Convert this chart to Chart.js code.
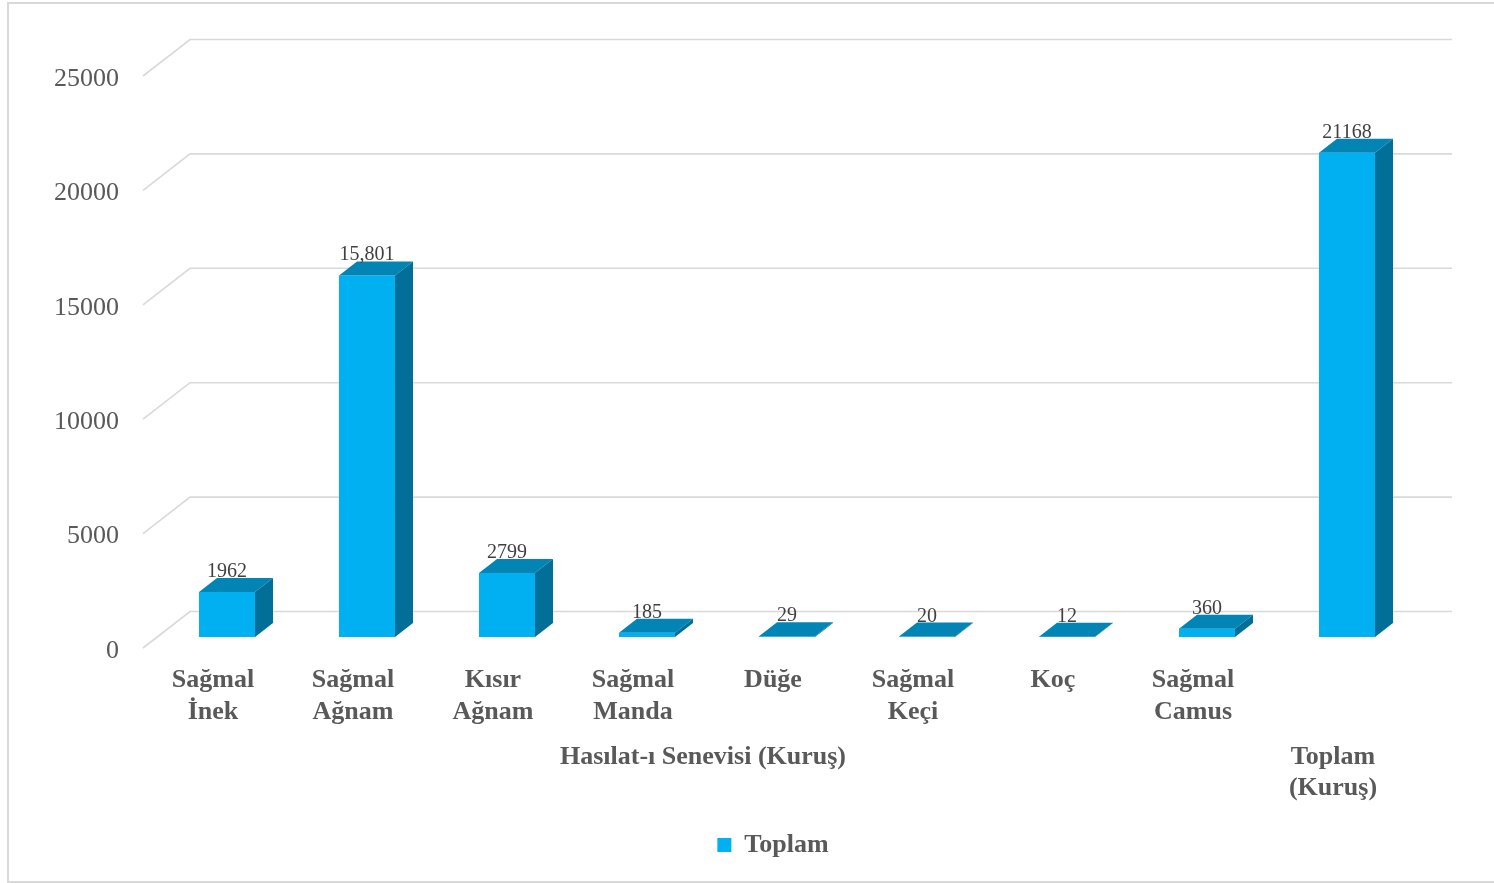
<!DOCTYPE html>
<html>
<head>
<meta charset="utf-8">
<script src="https://cdn.jsdelivr.net/npm/chart.js@4"></script>
<style>
    body { margin: 0; background: #fff; }
    #wrap { width: 1494px; height: 883px; position: relative; }
</style>
</head>
<body>
<div id="wrap"><canvas id="chart"></canvas></div>
<script>
const categories = [
    ['Sağmal', 'İnek'], ['Sağmal', 'Ağnam'], ['Kısır', 'Ağnam'], ['Sağmal', 'Manda'],
    'Düğe', ['Sağmal', 'Keçi'], 'Koç', ['Sağmal', 'Camus'], ''
];
const groupLabel = 'Hasılat-ı Senevisi (Kuruş)';
const totalLabel = ['Toplam', '(Kuruş)'];
const values = [1962, 15801, 2799, 185, 29, 20, 12, 360, 21168];
const valueLabels = ['1962', '15,801', '2799', '185', '29', '20', '12', '360', '21168'];
const yTicks = [0, 5000, 10000, 15000, 20000, 25000];

const FONT = "'Liberation Serif', 'Times New Roman', serif";
const GREY = '#595959';
const FRONT = '#00B0F0', TOP = '#0285B5', SIDE = '#016F97';
const DX = 18, DY = -14;        // bar depth
const SHIFT = 14;               // bar plane vs axis plane
const BACK_X = 47, BACK_Y = -36.5; // wall depth

const threeD = {
    id: 'threeD',
    beforeDraw(chart) {
        const ctx = chart.ctx;
        ctx.save();
        ctx.strokeStyle = '#D9D9D9';
        ctx.lineWidth = 2;
        ctx.strokeRect(8, 3, 1500, 879);
        ctx.restore();
    },
    beforeDatasetsDraw(chart) {
        const ctx = chart.ctx;
        const y = chart.scales.y, area = chart.chartArea;
        ctx.save();
        ctx.strokeStyle = '#D9D9D9';
        ctx.lineWidth = 1.6;
        yTicks.forEach(v => {
            const py = y.getPixelForValue(v);
            ctx.beginPath();
            ctx.moveTo(area.left, py);
            ctx.lineTo(area.left + BACK_X, py + BACK_Y);
            ctx.lineTo(area.right + BACK_X + 2, py + BACK_Y);
            ctx.stroke();
        });
        ctx.restore();
        ctx.save();
        ctx.translate(SHIFT, 0);
    },
    afterDatasetsDraw(chart) {
        const ctx = chart.ctx;
        const meta = chart.getDatasetMeta(0);
        meta.data.forEach((bar, i) => {
            const x0 = bar.x - bar.width / 2, x1 = bar.x + bar.width / 2;
            const top = bar.y, base = bar.base;
            ctx.fillStyle = TOP;
            ctx.beginPath();
            ctx.moveTo(x0, top); ctx.lineTo(x1, top);
            ctx.lineTo(x1 + DX, top + DY); ctx.lineTo(x0 + DX, top + DY);
            ctx.closePath(); ctx.fill();
            ctx.fillStyle = SIDE;
            ctx.beginPath();
            ctx.moveTo(x1, top); ctx.lineTo(x1 + DX, top + DY);
            ctx.lineTo(x1 + DX, base + DY); ctx.lineTo(x1, base);
            ctx.closePath(); ctx.fill();
            ctx.fillStyle = '#404040';
            ctx.font = `20px ${FONT}`;
            ctx.textAlign = 'center';
            ctx.textBaseline = 'alphabetic';
            ctx.fillText(valueLabels[i], bar.x, top + DY - 1);
        });
        ctx.restore();
    },
    afterDraw(chart) {
        const ctx = chart.ctx;
        const x = chart.scales.x;
        ctx.save();
        ctx.fillStyle = GREY;
        ctx.font = `bold 26px ${FONT}`;
        ctx.textAlign = 'center';
        ctx.textBaseline = 'middle';
        const gx = (x.getPixelForValue(0) + x.getPixelForValue(7)) / 2;
        ctx.fillText(groupLabel, gx, 757);
        const tx = x.getPixelForValue(8);
        totalLabel.forEach((t, k) => ctx.fillText(t, tx, 757 + k * 31));
        ctx.restore();
    }
};

new Chart(document.getElementById('chart'), {
    type: 'bar',
    data: {
        labels: categories,
        datasets: [{
            label: 'Toplam',
            data: values,
            yAxisID: 'y2',
            backgroundColor: FRONT,
            borderWidth: 0,
            barPercentage: 0.4,
            categoryPercentage: 1
        }]
    },
    options: {
        responsive: true,
        maintainAspectRatio: false,
        animation: false,
        layout: { padding: { left: 0, right: 91, top: 76, bottom: 15 } },
        plugins: {
            tooltip: { enabled: false },
            legend: {
                position: 'bottom',
                fullSize: false,
                labels: {
                    boxWidth: 14, boxHeight: 14, padding: 10,
                    color: GREY,
                    font: { family: FONT, size: 26, weight: 'bold' }
                }
            }
        },
        scales: {
            x: {
                grid: { display: false, drawTicks: false },
                border: { display: false },
                ticks: {
                    color: GREY, padding: 17, maxRotation: 0, autoSkip: false,
                    font: { family: FONT, size: 26, weight: 'bold', lineHeight: 1.2 }
                },
                afterFit(s) { s.height = 174; }
            },
            y: {
                min: 0, max: 25000,
                grid: { display: false, drawTicks: false },
                border: { display: false },
                ticks: {
                    stepSize: 5000, color: GREY, padding: 24, labelOffset: 3,
                    font: { family: FONT, size: 26 },
                    callback: v => String(v)
                },
                afterFit(s) { s.width = 143; }
            },
            y2: {
                display: false,
                min: -481, max: 24519
            }
        }
    },
    plugins: [threeD]
});
</script>
</body>
</html>
